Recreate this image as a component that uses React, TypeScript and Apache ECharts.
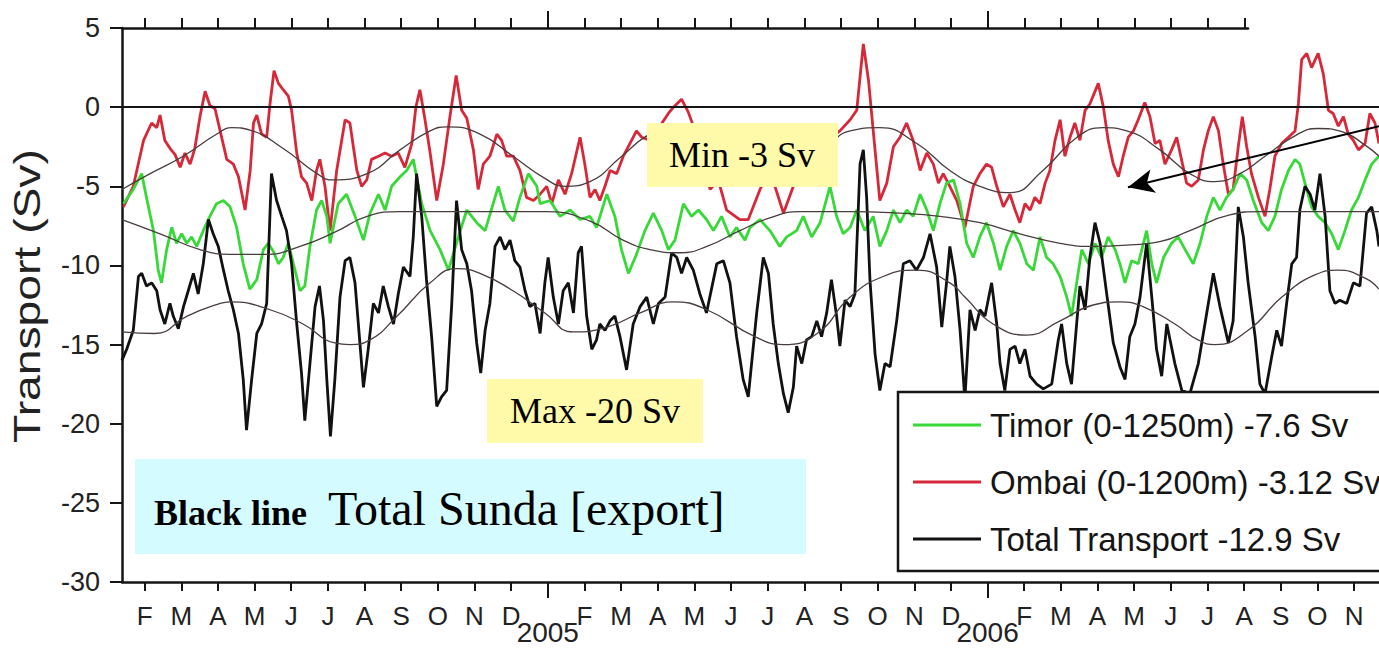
import { useEffect, useRef } from 'react';
import * as echarts from 'echarts';

// ---------- axis / label lists ----------
const monthLetters = ['J', 'F', 'M', 'A', 'M', 'J', 'J', 'A', 'S', 'O', 'N', 'D'];
const yearLabels = ['2004', '2005', '2006'];
const bottomMonthTicks = [1, 2, 3, 4, 5, 6, 7, 8, 9, 10, 11, 13, 14, 15, 16, 17, 18, 19, 20, 21, 22, 23, 25, 26, 27, 28, 29, 30, 31, 32, 33, 34];
const topMonthTicks = [1, 2, 3, 4, 5, 6, 7, 8, 9, 10, 11, 13, 14, 15, 16, 17, 18, 19, 20, 21, 22, 23, 25, 26, 27, 28, 29, 30, 31];
const yearTicks = [12, 24];
const xStart = 0.382; // months since 1 Jan 2004
const xEnd = 34.68;
const topAxisEnd = 31.1;
const yMin = -30;
const yMax = 5;
const yStep = 5;
const zeroLine = 0;
const arrowFrom = [34.68, -1.2];
const arrowTo = [27.83, -5.06];

const legendNames = ['Timor (0-1250m) -7.6 Sv', 'Ombai (0-1200m) -3.12 Sv', 'Total Transport -12.9 Sv'];

// ---------- data: [months since Jan 2004, transport Sv] ----------
const ombai: number[][] = [
  [0.42, -6.3], [0.69, -5.0], [0.97, -2.1], [1.19, -1.0], [1.33, -1.3], [1.42, -0.5], [1.55, -2.1], [1.69, -2.6], [1.83, -3.0], [1.97, -3.8], [2.10, -2.9], [2.24, -3.6], [2.37, -2.6], [2.51, -0.6], [2.65, 1.0], [2.78, 0.1], [2.92, -0.1], [3.06, -1.5], [3.24, -3.3], [3.42, -3.6], [3.56, -4.4], [3.74, -6.5], [3.88, -4.0], [3.97, -1.0], [4.06, -0.5], [4.19, -1.7], [4.33, -1.9], [4.42, 0.2], [4.53, 2.3], [4.65, 1.5], [4.78, 1.1], [4.92, 0.7], [5.01, -0.2], [5.15, -2.9], [5.28, -4.4], [5.42, -4.8], [5.56, -5.9], [5.69, -4.0], [5.78, -3.3], [5.92, -5.0], [6.06, -7.8],
  [6.24, -4.0], [6.47, -0.8], [6.60, -1.0], [6.79, -4.0], [6.92, -5.0], [7.06, -4.6], [7.19, -3.3], [7.38, -3.1], [7.56, -2.9], [7.74, -3.1], [7.92, -2.9], [8.10, -3.8], [8.29, -2.3], [8.40, 0.0], [8.51, 1.1], [8.65, -0.8], [8.79, -2.9], [8.97, -5.9], [9.15, -3.6], [9.33, -0.6], [9.50, 2.0], [9.65, -0.2], [9.79, -0.7], [9.97, -2.7], [10.10, -5.2], [10.24, -3.6], [10.42, -3.1], [10.61, -1.7], [10.74, -2.1], [10.88, -3.1], [11.06, -3.1], [11.24, -4.0], [11.42, -5.7], [11.61, -5.9], [11.79, -5.5],
  [11.97, -5.0], [12.11, -6.1], [12.29, -4.6], [12.47, -5.5], [12.65, -4.2], [12.88, -1.9], [13.01, -3.6], [13.15, -5.7], [13.29, -5.2], [13.42, -5.9], [13.56, -5.0], [13.70, -4.0], [13.88, -4.2], [14.06, -3.1], [14.24, -2.3], [14.42, -1.5], [14.56, -1.9], [14.79, -2.1], [15.06, -1.2], [15.29, -0.4], [15.43, 0.0], [15.65, 0.5], [15.83, -0.3], [16.02, -1.5], [16.24, -3.6], [16.43, -5.2], [16.65, -4.6], [16.88, -6.5], [17.24, -7.1], [17.47, -7.1],
  [17.79, -5.2], [18.06, -4.0], [18.43, -6.7], [18.70, -5.0], [18.97, -4.2], [19.24, -3.1], [19.52, -2.1], [19.74, -1.9], [19.97, -1.5], [20.25, -0.8], [20.43, -0.2], [20.61, 4.0], [20.75, 1.7], [20.88, -1.5], [21.06, -5.9], [21.25, -4.8], [21.43, -2.5], [21.61, -1.9], [21.79, -1.0], [21.97, -2.1], [22.16, -4.0], [22.34, -2.9], [22.52, -3.6], [22.66, -4.8], [22.79, -4.2], [22.97, -5.0], [23.16, -5.9], [23.38, -7.6],
  [23.61, -5.0], [23.79, -4.2], [23.97, -3.6], [24.11, -3.8], [24.25, -5.0], [24.43, -6.3], [24.61, -5.5], [24.75, -6.5], [24.88, -7.3], [25.02, -6.1], [25.16, -6.5], [25.29, -5.7], [25.43, -6.1], [25.57, -4.8], [25.70, -4.0], [25.84, -2.1], [25.98, -0.8], [26.11, -3.1], [26.25, -1.9], [26.38, -1.0], [26.52, -2.1], [26.66, -0.2], [26.79, 0.2], [27.02, 1.5], [27.16, 0.0], [27.29, -2.1], [27.43, -3.6], [27.57, -4.4], [27.70, -3.1], [27.84, -1.9], [27.98, -1.5], [28.11, -0.8], [28.29, 0.3], [28.43, -0.6], [28.57, -2.3], [28.70, -2.1],
  [28.84, -3.6], [29.02, -2.7], [29.16, -1.9], [29.29, -3.3], [29.43, -4.8], [29.57, -5.0], [29.75, -4.6], [29.89, -2.7], [30.02, -1.5], [30.16, -0.6], [30.30, -1.5], [30.43, -3.6], [30.57, -5.5], [30.70, -5.2], [30.84, -2.5], [30.95, -0.6], [31.07, -2.5], [31.20, -4.2], [31.39, -5.7], [31.57, -6.9], [31.70, -5.2], [31.84, -3.1], [32.02, -2.3], [32.21, -1.9], [32.39, -1.5], [32.48, 0.2], [32.57, 3.0], [32.71, 3.4], [32.84, 2.5], [33.02, 3.4], [33.16, 2.1], [33.30, -0.2], [33.43, -0.4], [33.57, -1.2], [33.71, -0.6], [33.84, -1.7], [33.98, -2.1], [34.12, -2.7], [34.30, -2.3], [34.43, -0.4], [34.57, -1.0], [34.68, -2.3],
];

const timor: number[][] = [
  [0.42, -6.1], [0.69, -5.2], [0.92, -4.2], [1.05, -5.7], [1.24, -7.8], [1.37, -10.3], [1.46, -11.1], [1.60, -9.0], [1.74, -7.6], [1.87, -8.6], [2.01, -8.0], [2.15, -8.6], [2.28, -8.2], [2.42, -8.8], [2.60, -7.8], [2.78, -6.9], [2.96, -6.1], [3.15, -5.9], [3.33, -6.3], [3.51, -7.6], [3.69, -9.9], [3.87, -11.5], [4.06, -10.9], [4.24, -9.0], [4.37, -8.6], [4.51, -9.1], [4.65, -9.9], [4.78, -9.5], [4.92, -8.6], [5.06, -9.9], [5.24, -11.6], [5.37, -11.3], [5.51, -8.8], [5.69, -6.5], [5.83, -5.9], [5.97, -6.9],
  [6.06, -8.6], [6.28, -6.1], [6.51, -5.5], [6.74, -6.9], [6.97, -8.4], [7.15, -6.7], [7.38, -5.5], [7.56, -6.5], [7.74, -5.0], [7.97, -4.4], [8.15, -4.0], [8.33, -3.3], [8.56, -6.1], [8.79, -7.8], [9.06, -9.0], [9.29, -10.3], [9.56, -8.2], [9.79, -6.5], [10.06, -7.3], [10.29, -7.8], [10.51, -6.1], [10.65, -5.0], [10.83, -6.5], [11.06, -7.2], [11.24, -5.7], [11.47, -4.2], [11.70, -5.0],
  [11.79, -6.1], [12.06, -5.9], [12.33, -6.9], [12.61, -6.5], [12.88, -7.1], [13.15, -6.9], [13.33, -7.6], [13.61, -5.5], [13.83, -6.9], [14.01, -9.0], [14.20, -10.5], [14.42, -9.3], [14.65, -7.8], [14.88, -6.7], [15.11, -7.8], [15.29, -9.0], [15.47, -8.4], [15.70, -6.1], [15.92, -6.9], [16.11, -6.5], [16.33, -7.1], [16.52, -7.8], [16.74, -6.9], [16.97, -8.2], [17.15, -7.6], [17.38, -8.4],
  [17.52, -7.6], [17.79, -7.1], [18.06, -7.8], [18.33, -8.8], [18.52, -8.2], [18.79, -7.8], [18.97, -6.9], [19.20, -8.2], [19.43, -7.3], [19.70, -5.0], [19.88, -6.9], [20.06, -8.0], [20.25, -7.6], [20.43, -6.5], [20.65, -7.8], [20.88, -6.9], [21.06, -8.8], [21.25, -7.8], [21.43, -6.5], [21.61, -7.3], [21.79, -6.5], [21.97, -6.9], [22.16, -5.5], [22.34, -6.5], [22.52, -7.8], [22.70, -6.1], [22.88, -4.8], [23.07, -4.6], [23.25, -6.1],
  [23.43, -8.6], [23.61, -9.5], [23.79, -8.2], [23.97, -7.3], [24.16, -8.6], [24.34, -10.3], [24.52, -8.8], [24.70, -7.8], [24.88, -8.6], [25.07, -9.9], [25.25, -10.3], [25.43, -8.2], [25.61, -9.5], [25.79, -9.9], [25.98, -10.7], [26.16, -12.0], [26.29, -13.2], [26.43, -11.1], [26.57, -9.0], [26.75, -9.9], [26.93, -8.6], [27.11, -9.5], [27.29, -8.2], [27.48, -9.0], [27.61, -9.9], [27.75, -11.1], [27.93, -9.7], [28.11, -9.9], [28.34, -7.8], [28.48, -9.9], [28.61, -11.1], [28.80, -9.5],
  [29.02, -8.6], [29.20, -8.2], [29.39, -9.0], [29.61, -9.9], [29.80, -8.6], [29.98, -6.9], [30.16, -5.7], [30.34, -6.5], [30.52, -5.7], [30.70, -5.2], [30.89, -4.2], [31.07, -4.6], [31.25, -5.9], [31.48, -7.3], [31.66, -7.8], [31.84, -6.9], [32.02, -5.2], [32.21, -4.0], [32.39, -3.3], [32.52, -3.6], [32.66, -4.8], [32.84, -6.3], [33.02, -6.9], [33.21, -7.3], [33.39, -8.0], [33.57, -9.0], [33.75, -7.8], [33.93, -6.5], [34.12, -5.7], [34.30, -4.6], [34.48, -3.6], [34.68, -3.1],
];

const total: number[][] = [
  [0.38, -16.0], [0.51, -15.3], [0.69, -14.1], [0.83, -10.7], [0.92, -10.5], [1.05, -11.3], [1.19, -11.1], [1.33, -11.6], [1.42, -12.8], [1.55, -13.7], [1.69, -12.4], [1.78, -13.2], [1.92, -14.0], [2.06, -12.6], [2.19, -11.6], [2.33, -10.5], [2.46, -11.8], [2.60, -9.9], [2.74, -7.1], [2.87, -8.0], [3.01, -8.8], [3.15, -10.3], [3.28, -11.6], [3.42, -12.8], [3.56, -14.3], [3.69, -17.2], [3.78, -20.4], [3.92, -17.2], [4.06, -14.3], [4.19, -13.7], [4.33, -12.4], [4.46, -4.2], [4.60, -5.9], [4.74, -6.9], [4.87, -7.8], [5.01, -9.9], [5.15, -13.7], [5.28, -16.8], [5.37, -19.8], [5.51, -16.2], [5.65, -12.6], [5.77, -11.3], [5.88, -13.5], [5.97, -17.2], [6.07, -20.8],
  [6.19, -17.2], [6.33, -12.0], [6.47, -9.7], [6.60, -9.5], [6.74, -11.1], [6.88, -15.1], [6.97, -17.7], [7.10, -15.3], [7.24, -12.4], [7.38, -13.0], [7.51, -11.3], [7.65, -12.6], [7.79, -13.7], [7.92, -11.8], [8.06, -10.1], [8.24, -10.7], [8.33, -8.2], [8.42, -4.2], [8.56, -6.9], [8.69, -10.9], [8.83, -14.5], [8.97, -18.9], [9.10, -18.3], [9.24, -17.9], [9.38, -12.4], [9.51, -5.9], [9.65, -9.0], [9.79, -9.9], [9.92, -11.6], [10.06, -14.9], [10.17, -16.8], [10.29, -14.1], [10.42, -12.4], [10.56, -8.8], [10.70, -8.2], [10.83, -9.0], [10.97, -8.4], [11.10, -9.7], [11.24, -10.1], [11.38, -11.6], [11.51, -12.6], [11.65, -12.4], [11.79, -14.3],
  [11.92, -11.1], [12.01, -9.5], [12.15, -12.0], [12.29, -13.7], [12.42, -11.6], [12.56, -11.1], [12.70, -13.0], [12.83, -9.2], [12.92, -8.8], [13.06, -13.2], [13.20, -15.3], [13.33, -14.7], [13.42, -13.7], [13.56, -14.1], [13.70, -13.5], [13.83, -13.2], [13.97, -14.5], [14.15, -16.6], [14.33, -13.7], [14.52, -12.6], [14.70, -12.0], [14.88, -13.7], [15.02, -12.4], [15.20, -12.0], [15.38, -9.2], [15.52, -9.5], [15.65, -10.5], [15.79, -9.5], [15.97, -10.3], [16.15, -11.8], [16.33, -13.0], [16.61, -9.9], [16.79, -9.7], [16.97, -11.1], [17.15, -14.5], [17.33, -17.2], [17.47, -18.3],
  [17.70, -13.0], [17.88, -9.5], [18.02, -10.5], [18.15, -13.7], [18.29, -16.2], [18.43, -18.1], [18.56, -19.3], [18.70, -17.7], [18.79, -15.1], [18.93, -16.2], [19.06, -14.7], [19.20, -14.5], [19.34, -13.5], [19.47, -14.5], [19.61, -13.0], [19.74, -10.9], [19.88, -13.2], [19.97, -15.1], [20.11, -12.2], [20.25, -12.6], [20.38, -11.8], [20.52, -3.6], [20.61, -2.7], [20.70, -5.7], [20.79, -10.9], [20.93, -15.6], [21.06, -17.9], [21.20, -16.2], [21.34, -16.4], [21.52, -13.5], [21.70, -9.9], [21.88, -9.7], [22.06, -10.3], [22.25, -9.5], [22.43, -8.0], [22.61, -10.1], [22.75, -13.9], [22.88, -11.1], [22.97, -8.8], [23.11, -10.7], [23.25, -14.1], [23.38, -18.5],
  [23.52, -12.8], [23.66, -14.1], [23.79, -12.8], [23.93, -13.2], [24.11, -11.1], [24.25, -13.7], [24.34, -16.2], [24.47, -17.9], [24.61, -15.3], [24.75, -15.1], [24.88, -16.2], [25.02, -15.3], [25.16, -17.0], [25.34, -17.5], [25.52, -17.8], [25.75, -17.5], [25.93, -14.7], [26.02, -13.7], [26.16, -16.2], [26.29, -17.5], [26.43, -13.7], [26.52, -11.3], [26.66, -12.8], [26.79, -9.5], [26.93, -7.3], [27.07, -8.6], [27.25, -11.8], [27.43, -14.9], [27.61, -16.4], [27.75, -17.2], [27.88, -14.5], [28.02, -13.7], [28.16, -12.0], [28.34, -8.6], [28.48, -12.0], [28.61, -15.3], [28.75, -17.0],
  [28.89, -13.7], [29.11, -16.2], [29.30, -17.9], [29.52, -18.1], [29.75, -16.2], [29.98, -13.0], [30.16, -10.5], [30.34, -12.6], [30.57, -14.9], [30.70, -13.5], [30.84, -6.3], [30.98, -8.2], [31.11, -11.1], [31.30, -14.5], [31.43, -17.5], [31.57, -18.1], [31.75, -15.8], [31.89, -14.1], [32.02, -15.1], [32.16, -12.4], [32.30, -9.9], [32.43, -9.5], [32.52, -6.5], [32.66, -5.0], [32.80, -5.5], [32.93, -6.5], [33.07, -4.2], [33.21, -6.9], [33.34, -11.6], [33.48, -12.4], [33.61, -12.2], [33.80, -12.4], [33.98, -11.1], [34.16, -11.3], [34.34, -6.7], [34.48, -6.3], [34.62, -7.8], [34.68, -8.8],
];

const ombaiFit: number[][] = [
  [0.38, -5.2], [1.15, -4.2], [2.05, -3.1], [2.97, -1.7], [3.38, -1.3], [3.87, -1.45], [4.77, -2.6], [5.70, -4.2], [6.14, -4.6], [7.07, -4.2], [7.97, -2.7], [8.79, -1.5], [9.25, -1.25], [10.15, -1.7], [11.05, -3.1], [11.92, -4.5], [12.47, -5.0], [13.15, -4.7], [13.97, -3.2], [14.71, -1.8], [15.33, -1.3], [16.15, -2.2], [17.24, -4.0], [18.06, -4.6], [18.88, -3.8], [19.70, -2.3], [20.25, -1.5], [21.06, -1.3], [22.07, -2.3], [22.97, -4.0], [23.79, -5.0], [24.61, -5.4], [25.51, -4.0], [26.44, -1.9], [27.15, -1.3], [27.80, -1.5], [28.70, -2.7], [29.52, -4.2], [30.20, -4.7], [30.89, -4.2], [31.57, -3.1], [32.47, -1.7], [33.02, -1.35], [33.67, -1.55], [34.30, -2.4], [34.68, -3.1],
];

const timorFit: number[][] = [
  [0.38, -7.1], [1.42, -8.0], [2.51, -9.0], [3.33, -9.3], [4.28, -9.3], [5.24, -8.8], [6.19, -7.9], [7.07, -6.9], [7.97, -6.6], [9.33, -6.6], [10.70, -6.6], [11.92, -6.6], [13.15, -7.2], [14.05, -8.4], [14.79, -9.0], [15.61, -9.2], [16.34, -8.8], [17.24, -7.8], [18.06, -7.0], [18.88, -6.6], [20.25, -6.6], [21.61, -6.7], [22.70, -6.9], [23.79, -7.3], [24.88, -8.0], [25.98, -8.6], [26.88, -8.8], [27.89, -8.7], [28.70, -8.5], [29.52, -7.8], [30.61, -6.8], [31.43, -6.6], [34.68, -6.6],
];

const totalFit: number[][] = [
  [0.38, -14.2], [1.28, -14.3], [2.16, -13.2], [3.06, -12.4], [3.33, -12.3], [4.42, -12.8], [5.32, -13.7], [6.19, -14.9], [6.60, -15.0], [7.15, -14.7], [7.89, -13.2], [8.79, -11.1], [9.52, -10.2], [10.15, -10.5], [11.05, -11.6], [11.92, -13.0], [12.69, -14.2], [13.62, -13.9], [14.52, -13.0], [15.42, -12.3], [16.34, -12.8], [17.65, -14.5], [18.42, -15.0], [19.35, -14.3], [20.25, -12.0], [21.15, -10.7], [22.07, -10.3], [22.97, -11.1], [23.38, -12.0], [24.15, -13.7], [25.07, -14.4], [25.98, -13.5], [26.88, -12.5], [27.61, -12.3], [28.24, -12.6], [29.11, -13.7], [29.74, -14.7], [30.20, -15.0], [31.11, -14.1], [32.03, -12.0], [32.93, -10.6], [33.56, -10.3], [34.30, -10.8], [34.68, -11.5],
];

const SANS = '"Liberation Sans", Arial, Helvetica, sans-serif';
const SERIF = '"Liberation Serif", "Times New Roman", Times, serif';
const INK = '#151515';
const GREEN = '#38d838';
const RED = '#d62838';
const BLACK = '#111111';
const FIT = '#4a3d3d';

function buildOption() {
  const lineBase = { type: 'line', showSymbol: false, symbol: 'none', xAxisIndex: 0, yAxisIndex: 0 };
  return {
    animation: false,
    backgroundColor: '#ffffff',
    grid: [
      { left: 122, top: 28, right: 0, bottom: 68 },
      { left: 122, top: 28, width: 1126, bottom: 68 },
    ],
    xAxis: [
      {
        type: 'value', gridIndex: 0, position: 'bottom', min: xStart, max: xEnd,
        axisLine: { show: true, onZero: false, lineStyle: { color: INK, width: 2.5 } },
        axisTick: { show: true, inside: false, length: 9, customValues: bottomMonthTicks, lineStyle: { color: INK, width: 2 } },
        axisLabel: {
          show: true, customValues: bottomMonthTicks, margin: 21, fontSize: 26, fontFamily: SANS, color: '#222',
          formatter: (v: number) => monthLetters[Math.round(v) % 12],
        },
        splitLine: { show: false },
      },
      {
        type: 'value', gridIndex: 0, position: 'bottom', min: xStart, max: xEnd,
        axisLine: { show: false, onZero: false },
        axisTick: { show: true, inside: false, length: 16, customValues: yearTicks, lineStyle: { color: INK, width: 2 } },
        axisLabel: {
          show: true, customValues: yearTicks, margin: 36, fontSize: 28, fontFamily: SANS, color: '#222',
          formatter: (v: number) => yearLabels[Math.round(v / 12)],
        },
        splitLine: { show: false },
      },
      {
        type: 'value', gridIndex: 1, position: 'top', min: xStart, max: topAxisEnd,
        axisLine: { show: true, onZero: false, lineStyle: { color: INK, width: 2.5 } },
        axisTick: { show: true, inside: false, length: 10, customValues: topMonthTicks, lineStyle: { color: INK, width: 2 } },
        axisLabel: { show: false },
        splitLine: { show: false },
      },
      {
        type: 'value', gridIndex: 1, position: 'top', min: xStart, max: topAxisEnd,
        axisLine: { show: false, onZero: false },
        axisTick: { show: true, inside: false, length: 17, customValues: yearTicks, lineStyle: { color: INK, width: 2 } },
        axisLabel: { show: false },
        splitLine: { show: false },
      },
    ],
    yAxis: [
      {
        type: 'value', gridIndex: 0, min: yMin, max: yMax, interval: yStep,
        axisLine: { show: true, onZero: false, lineStyle: { color: INK, width: 2.5 } },
        axisTick: { show: true, inside: false, length: 12, lineStyle: { color: INK, width: 2 } },
        axisLabel: { show: true, margin: 22, fontSize: 27, fontFamily: SANS, color: '#222' },
        splitLine: { show: false },
      },
      { type: 'value', gridIndex: 1, min: yMin, max: yMax, interval: yStep, show: false },
    ],
    legend: {
      data: legendNames,
      orient: 'vertical',
      left: 898,
      top: 392,
      padding: [13, 20, 12, 15],
      icon: 'rect',
      itemWidth: 68,
      itemHeight: 3,
      itemGap: 17,
      backgroundColor: '#ffffff',
      borderColor: INK,
      borderWidth: 2.5,
      selectedMode: false,
      textStyle: { fontSize: 33, fontFamily: SANS, color: '#151515', lineHeight: 40, padding: [0, 0, 0, 4] },
    },
    graphic: [
      {
        type: 'text', z: 100, x: 27, y: 296, rotation: Math.PI / 2, scaleX: 1.25,
        style: { text: 'Transport (Sv)', fontSize: 37, fontFamily: SANS, fill: '#222', align: 'center', verticalAlign: 'middle', textAlign: 'center', textVerticalAlign: 'middle' },
      },
      { type: 'rect', z: 100, shape: { x: 647, y: 123, width: 191, height: 64 }, style: { fill: '#fffaaa' } },
      {
        type: 'text', z: 101, x: 742, y: 155,
        style: { text: 'Min -3 Sv', fontSize: 36, fontFamily: SERIF, fill: '#000', align: 'center', verticalAlign: 'middle', textAlign: 'center', textVerticalAlign: 'middle' },
      },
      { type: 'rect', z: 100, shape: { x: 487, y: 379, width: 216, height: 64 }, style: { fill: '#fffaaa' } },
      {
        type: 'text', z: 101, x: 595, y: 411,
        style: { text: 'Max -20 Sv', fontSize: 36, fontFamily: SERIF, fill: '#000', align: 'center', verticalAlign: 'middle', textAlign: 'center', textVerticalAlign: 'middle' },
      },
      { type: 'rect', z: 100, shape: { x: 135, y: 459, width: 671, height: 95 }, style: { fill: '#d4fbff' } },
      {
        type: 'text', z: 101, x: 154, y: 513,
        style: { text: 'Black line', fontSize: 36, fontWeight: 'bold', fontFamily: SERIF, fill: '#000', align: 'left', verticalAlign: 'middle', textAlign: 'left', textVerticalAlign: 'middle' },
      },
      {
        type: 'text', z: 101, x: 328, y: 508,
        style: { text: 'Total Sunda [export]', fontSize: 48, fontFamily: SERIF, fill: '#000', align: 'left', verticalAlign: 'middle', textAlign: 'left', textVerticalAlign: 'middle' },
      },
    ],
    series: [
      {
        ...lineBase, name: legendNames[1], data: ombai, z: 3,
        lineStyle: { color: RED, width: 2.8 }, itemStyle: { color: RED },
        markLine: {
          silent: true, symbol: ['none', 'none'], label: { show: false },
          lineStyle: { color: INK, width: 2, type: 'solid' },
          data: [{ yAxis: zeroLine }],
        },
      },
      { ...lineBase, name: legendNames[0], data: timor, z: 3, lineStyle: { color: GREEN, width: 2.8 }, itemStyle: { color: GREEN } },
      {
        ...lineBase, name: legendNames[2], data: total, z: 3,
        lineStyle: { color: BLACK, width: 2.8 }, itemStyle: { color: BLACK },
        markLine: {
          silent: true, symbol: ['none', 'arrow'], symbolSize: [18, 26], label: { show: false },
          lineStyle: { color: '#000', width: 2, type: 'solid' },
          data: [[{ coord: arrowFrom }, { coord: arrowTo }]],
        },
      },
      { ...lineBase, name: 'Ombai fit', data: ombaiFit, smooth: 0.5, z: 4, lineStyle: { color: FIT, width: 1.3 } },
      { ...lineBase, name: 'Timor fit', data: timorFit, smooth: 0.5, z: 4, lineStyle: { color: FIT, width: 1.3 } },
      { ...lineBase, name: 'Total fit', data: totalFit, smooth: 0.5, z: 4, lineStyle: { color: FIT, width: 1.3 } },
    ],
  };
}

export default function App() {
  const ref = useRef<HTMLDivElement>(null);
  useEffect(() => {
    if (!ref.current) return;
    const chart = echarts.init(ref.current, null, { renderer: 'svg' });
    chart.setOption(buildOption() as any);
    return () => chart.dispose();
  }, []);
  return (
    <div
      ref={ref}
      style={{ position: 'absolute', left: 0, top: 0, width: 1379, height: 650, background: '#fff' }}
    />
  );
}
